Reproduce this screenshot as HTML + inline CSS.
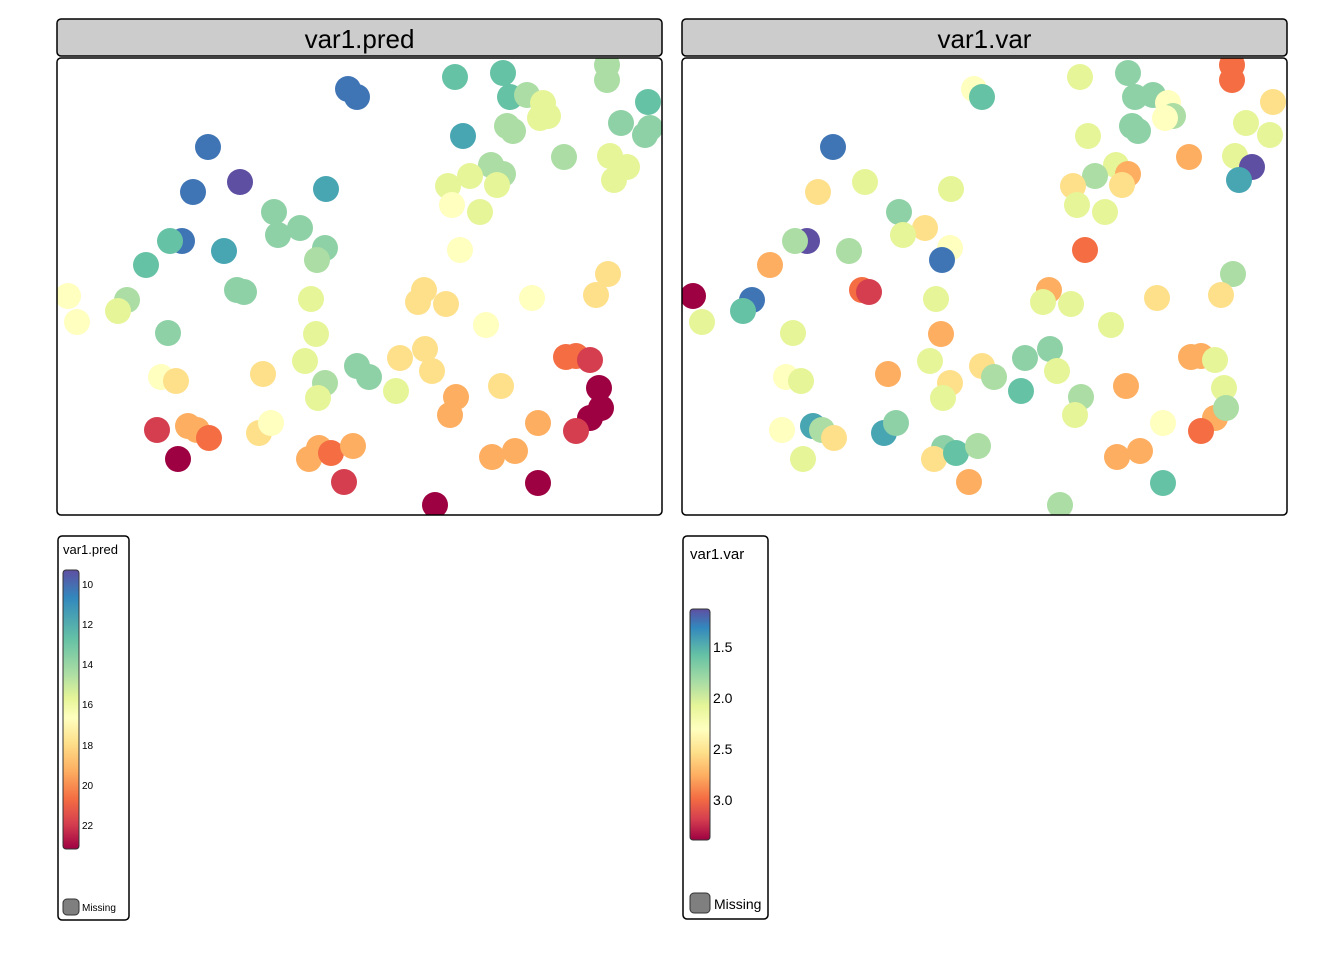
<!DOCTYPE html>
<html><head><meta charset="utf-8"><style>body{margin:0;background:#fff}svg{display:block;font-family:"Liberation Sans",sans-serif}</style></head><body>
<svg width="1344" height="960" xmlns="http://www.w3.org/2000/svg">
<defs>
<clipPath id="c1"><rect x="57" y="58" width="605" height="457" rx="4"/></clipPath>
<clipPath id="c2"><rect x="682" y="58" width="605" height="457" rx="4"/></clipPath>
<linearGradient id="g1" x1="0" y1="0" x2="0" y2="1">
<stop offset="0" stop-color="#5E4FA2"/><stop offset="0.1" stop-color="#3288BD"/><stop offset="0.25" stop-color="#66C2A5"/><stop offset="0.37" stop-color="#ABDDA4"/><stop offset="0.46" stop-color="#E6F598"/><stop offset="0.53" stop-color="#FFFFBF"/><stop offset="0.62" stop-color="#FEE08B"/><stop offset="0.72" stop-color="#FDAE61"/><stop offset="0.82" stop-color="#F46D43"/><stop offset="0.91" stop-color="#D53E4F"/><stop offset="1" stop-color="#9E0142"/></linearGradient>
</defs>
<rect x="57" y="19" width="605" height="37" rx="4" fill="#ccc" stroke="#000" stroke-width="1.5"/>
<rect x="682" y="19" width="605" height="37" rx="4" fill="#ccc" stroke="#000" stroke-width="1.5"/>
<text x="359.5" y="48" font-size="26" text-anchor="middle">var1.pred</text>
<text x="984.5" y="48" font-size="26" text-anchor="middle">var1.var</text>
<g clip-path="url(#c1)" id="p1"></g>
<g clip-path="url(#c2)" id="p2"></g>
<rect x="57" y="58" width="605" height="457" rx="4" fill="none" stroke="#000" stroke-width="1.5"/>
<rect x="682" y="58" width="605" height="457" rx="4" fill="none" stroke="#000" stroke-width="1.5"/>
<rect x="58" y="536" width="71" height="384" rx="4" fill="#fff" stroke="#000" stroke-width="1.5"/>
<text x="63" y="554" font-size="13">var1.pred</text>
<rect x="63" y="570" width="16" height="279" rx="3" fill="url(#g1)" stroke="#333"/>
<g font-size="10"><text x="82" y="588">10</text><text x="82" y="628">12</text><text x="82" y="668">14</text><text x="82" y="708">16</text><text x="82" y="749">18</text><text x="82" y="789">20</text><text x="82" y="829">22</text></g>
<rect x="63" y="899" width="16" height="16" rx="4" fill="#7f7f7f" stroke="#333"/>
<text x="82" y="911" font-size="10">Missing</text>
<rect x="683" y="536" width="85" height="383" rx="4" fill="#fff" stroke="#000" stroke-width="1.5"/>
<text x="690" y="559" font-size="15">var1.var</text>
<linearGradient id="g2" x1="0" y1="0" x2="0" y2="1">
<stop offset="0" stop-color="#5E4FA2"/><stop offset="0.08" stop-color="#3288BD"/><stop offset="0.2" stop-color="#66C2A5"/><stop offset="0.32" stop-color="#ABDDA4"/><stop offset="0.42" stop-color="#E6F598"/><stop offset="0.52" stop-color="#FFFFBF"/><stop offset="0.62" stop-color="#FEE08B"/><stop offset="0.72" stop-color="#FDAE61"/><stop offset="0.82" stop-color="#F46D43"/><stop offset="0.91" stop-color="#D53E4F"/><stop offset="1" stop-color="#9E0142"/></linearGradient>
<rect x="690" y="609" width="20" height="231" rx="3" fill="url(#g2)" stroke="#333"/>
<g font-size="14"><text x="713" y="652">1.5</text><text x="713" y="703">2.0</text><text x="713" y="754">2.5</text><text x="713" y="805">3.0</text></g>
<rect x="690" y="893" width="20" height="20" rx="4" fill="#7f7f7f" stroke="#333"/>
<text x="714" y="909" font-size="14">Missing</text>
</svg>
<script>
var C={dr:"#9E0142",r:"#D53E4F",or:"#F46D43",o:"#FDAE61",lo:"#FEE08B",py:"#FFFFBF",yg:"#E6F598",lg:"#ABDDA4",g:"#8fd1a6",t:"#66C2A5",tb:"#48a5b2",b:"#3f75b5",p:"#5E4FA2"};
var L=[[348,89,"b"],[357,97,"b"],[455,77,"t"],[503,73,"t"],[510,97,"t"],[527,95,"lg"],[543,103,"yg"],[548,116,"yg"],[540,118,"yg"],[607,65,"lg"],[607,80,"lg"],[648,102,"t"],[621,123,"g"],[645,135,"g"],[650,128,"g"],[463,136,"tb"],[507,126,"lg"],[513,131,"lg"],[564,157,"lg"],[610,156,"yg"],[627,167,"yg"],[614,180,"yg"],[208,147,"b"],[240,182,"p"],[193,192,"b"],[326,189,"tb"],[491,165,"lg"],[470,176,"yg"],[503,174,"lg"],[497,185,"yg"],[448,186,"yg"],[452,205,"py"],[480,212,"yg"],[274,212,"g"],[300,228,"g"],[278,235,"g"],[325,248,"g"],[317,260,"lg"],[182,241,"b"],[170,241,"t"],[224,251,"tb"],[146,265,"t"],[460,250,"py"],[237,290,"g"],[244,292,"g"],[127,300,"lg"],[118,311,"yg"],[68,296,"py"],[77,322,"py"],[311,299,"yg"],[424,290,"lo"],[418,302,"lo"],[446,304,"lo"],[532,298,"py"],[608,274,"lo"],[596,295,"lo"],[486,325,"py"],[168,333,"g"],[316,334,"yg"],[305,361,"yg"],[400,358,"lo"],[425,349,"lo"],[432,371,"lo"],[357,366,"g"],[369,377,"g"],[325,383,"lg"],[318,398,"yg"],[396,391,"yg"],[161,377,"py"],[176,381,"lo"],[263,374,"lo"],[456,397,"o"],[450,415,"o"],[501,386,"lo"],[566,357,"or"],[576,356,"or"],[590,360,"r"],[599,388,"dr"],[590,418,"dr"],[601,408,"dr"],[576,431,"r"],[538,423,"o"],[157,430,"r"],[188,426,"o"],[197,430,"o"],[209,438,"or"],[178,459,"dr"],[259,433,"lo"],[271,423,"py"],[319,448,"o"],[309,459,"o"],[331,453,"or"],[353,446,"o"],[344,482,"r"],[435,505,"dr"],[492,457,"o"],[515,451,"o"],[538,483,"dr"]];
var R=[[974,89,"py"],[982,97,"t"],[1080,77,"yg"],[1128,73,"g"],[1135,97,"g"],[1153,95,"g"],[1168,103,"py"],[1173,116,"lg"],[1165,118,"py"],[1232,65,"or"],[1232,80,"or"],[1273,102,"lo"],[1246,123,"yg"],[1270,135,"yg"],[1088,136,"yg"],[1132,126,"g"],[1138,131,"g"],[1189,157,"o"],[1235,156,"yg"],[1252,167,"p"],[1239,180,"tb"],[833,147,"b"],[865,182,"yg"],[818,192,"lo"],[951,189,"yg"],[1116,165,"yg"],[1095,176,"lg"],[1128,174,"o"],[1122,185,"lo"],[1073,186,"lo"],[1077,205,"yg"],[1105,212,"yg"],[899,212,"g"],[925,228,"lo"],[903,235,"yg"],[950,248,"py"],[942,260,"b"],[807,241,"p"],[795,241,"lg"],[849,251,"lg"],[770,265,"o"],[1085,250,"or"],[862,290,"or"],[869,292,"r"],[752,300,"b"],[743,311,"t"],[693,296,"dr"],[702,322,"yg"],[936,299,"yg"],[1049,290,"o"],[1043,302,"yg"],[1071,304,"yg"],[1157,298,"lo"],[1233,274,"lg"],[1221,295,"lo"],[1111,325,"yg"],[793,333,"yg"],[941,334,"o"],[930,361,"yg"],[1025,358,"g"],[1050,349,"g"],[1057,371,"yg"],[982,366,"lo"],[994,377,"lg"],[950,383,"lo"],[943,398,"yg"],[1021,391,"t"],[786,377,"py"],[801,381,"yg"],[888,374,"o"],[1081,397,"lg"],[1075,415,"yg"],[1126,386,"o"],[1191,357,"o"],[1201,356,"o"],[1215,360,"yg"],[1224,388,"yg"],[1215,418,"o"],[1226,408,"lg"],[1201,431,"or"],[1163,423,"py"],[782,430,"py"],[813,426,"tb"],[822,430,"lg"],[834,438,"lo"],[803,459,"yg"],[884,433,"tb"],[896,423,"g"],[944,448,"g"],[934,459,"lo"],[956,453,"t"],[978,446,"lg"],[969,482,"o"],[1060,505,"lg"],[1117,457,"o"],[1140,451,"o"],[1163,483,"t"]];
function draw(id,a){var g=document.getElementById(id),s="";a.forEach(function(p){s+='<circle cx="'+p[0]+'" cy="'+p[1]+'" r="13" fill="'+C[p[2]]+'"/>';});g.innerHTML=s;}
draw("p1",L);draw("p2",R);
</script>
</body></html>
